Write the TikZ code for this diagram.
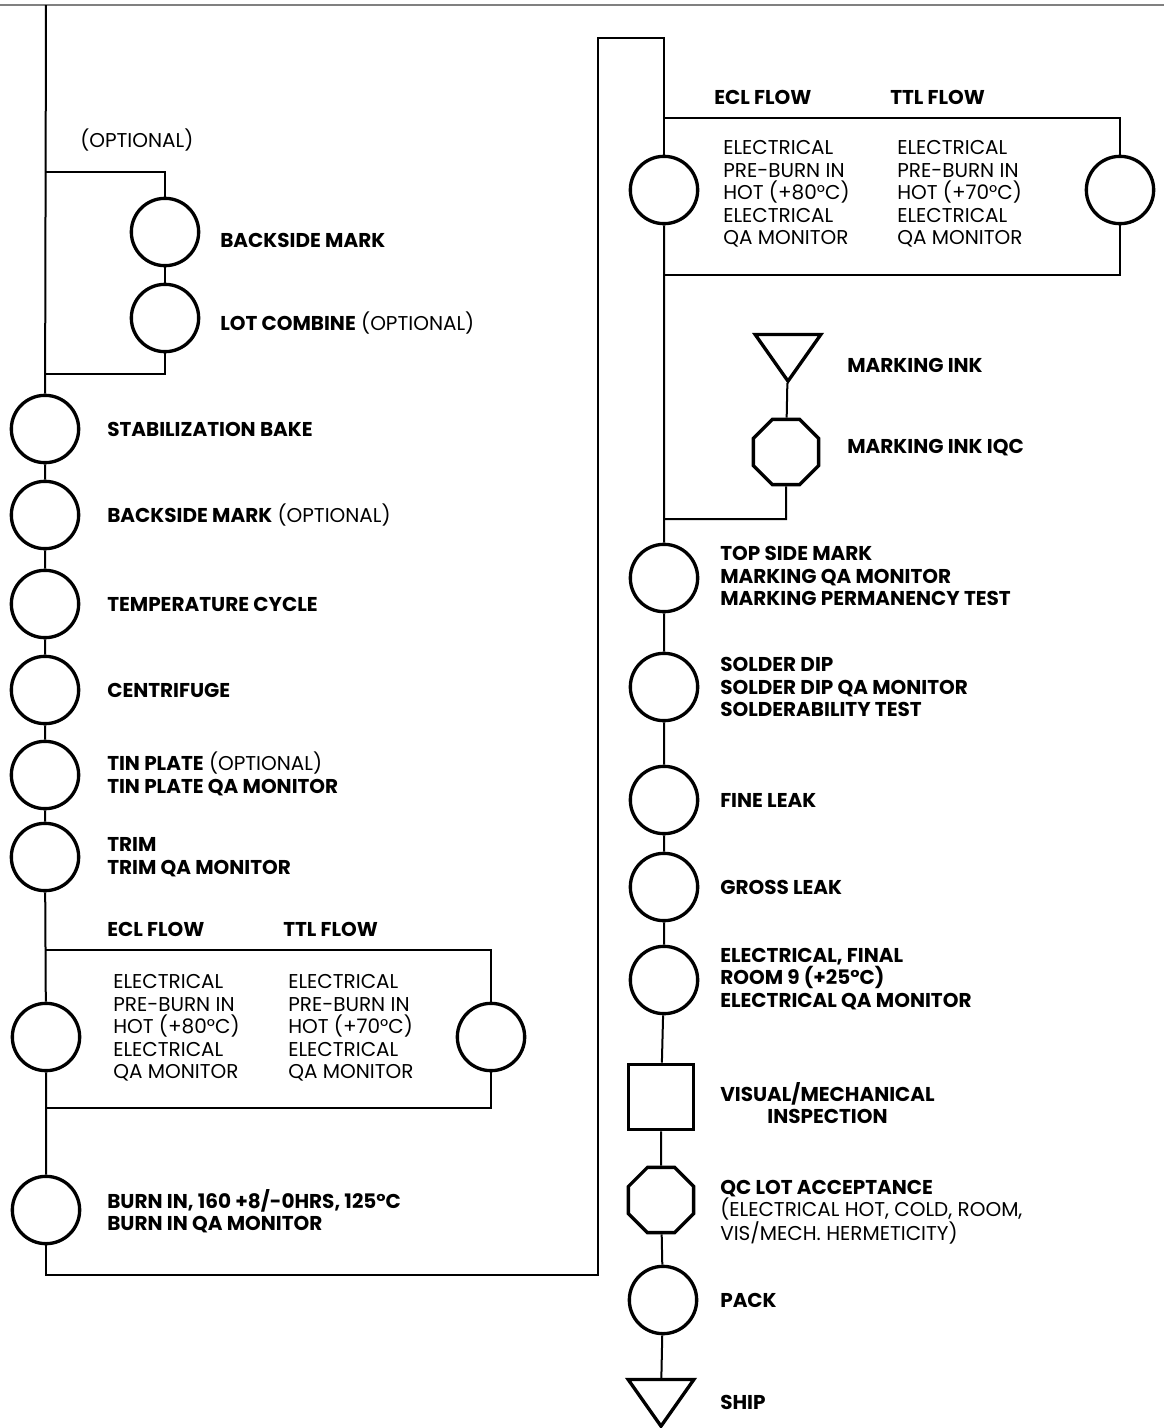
\documentclass[tikz,border=0pt]{standalone}
\usepackage{fontspec}
\setmainfont{Poppins}
\usetikzlibrary{shapes.geometric}

\begin{document}
\begin{tikzpicture}[x=0.75pt, y=-0.75pt,
    every node/.style={font=\fontsize{15}{16.9}\selectfont, inner sep=0pt},
    op/.style={draw, circle, line width=2.5pt, minimum size=50.5pt},
    insp/.style={draw, rectangle, line width=2.5pt, minimum size=49pt},
    qc/.style={draw, regular polygon, regular polygon sides=8, line width=2.5pt, minimum size=53pt},
    store/.style={draw, regular polygon, regular polygon sides=3, shape border rotate=180, line width=2.5pt, minimum size=57pt, yscale=0.82, transform shape},
    lbl/.style={anchor=west, align=left},
    blbl/.style={lbl, font=\fontsize{15}{16.9}\selectfont\bfseries},
    flow/.style={line width=1.5pt}]
    \useasboundingbox (0,0) rectangle (1164,1428);
    \draw[gray, line width=0.8pt] (0,5) -- (1164,5);

    \coordinate (ltop) at (46,5);
    \coordinate (optA) at (46,172);
    \coordinate (optB) at (46,374);
    \node[op] (bmark) at (165,232) {};
    \node[op] (lotc) at (165,318) {};
    \node[op] (stab) at (45,429) {};
    \node[op] (bmark2) at (45,515) {};
    \node[op] (tcyc) at (45,604) {};
    \node[op] (cent) at (45,690) {};
    \node[op] (tin) at (45,775) {};
    \node[op] (trim) at (45,857) {};
    \coordinate (lboxtop) at (46,950);
    \coordinate (lboxbot) at (46,1108);
    \node[op] (eclL) at (46,1037) {};
    \node[op] (ttlL) at (491,1037) {};
    \node[op] (burn) at (46,1210) {};
    \coordinate (turnA) at (598,1275);
    \coordinate (turnB) at (598,38);

    \node[op] (eclR) at (664,190) {};
    \node[op] (ttlR) at (1120,190) {};
    \coordinate (rboxtop) at (664,118);
    \coordinate (rboxbot) at (664,275);
    \node[store] (ink) at (788,350) {};
    \node[qc] (inkqc) at (786,452) {};
    \coordinate (inkjoin) at (664,519);
    \node[op] (tsm) at (664,578) {};
    \node[op] (sdip) at (664,687) {};
    \node[op] (fine) at (664,800) {};
    \node[op] (gross) at (664,887) {};
    \node[op] (efin) at (664,980) {};
    \node[insp] (vis) at (661,1097) {};
    \node[qc] (qclot) at (661,1200) {};
    \node[op] (pack) at (663,1300) {};
    \node[store] (ship) at (661,1395) {};

    \draw[flow] (ltop) -- (stab) -- (bmark2) -- (tcyc) -- (cent) -- (tin) -- (trim) -- (eclL) -- (burn);
    \draw[flow] (optA) -| (bmark) -- (lotc) |- (optB);
    \draw[flow] (lboxtop) -| (ttlL) |- (lboxbot);
    \draw[flow] (burn) |- (turnA) -- (turnB) -| (eclR);
    \draw[flow] (rboxtop) -| (ttlR) |- (rboxbot);
    \draw[flow] (eclR) -- (tsm) -- (sdip) -- (fine) -- (gross) -- (efin) -- (vis) -- (qclot) -- (pack) -- (ship);
    \draw[flow] (inkjoin) -| (inkqc) -- (ink);

    \node[lbl] (optlbl) at (80,140) {(OPTIONAL)};
    \node[blbl] (l1) at (220,240) {BACKSIDE MARK};
    \node[lbl] (l2) at (220,323) {\textbf{LOT COMBINE} (OPTIONAL)};
    \node[blbl] (l3) at (107,429) {STABILIZATION BAKE};
    \node[lbl] (l4) at (107,515) {\textbf{BACKSIDE MARK} (OPTIONAL)};
    \node[blbl] (l5) at (107,604) {TEMPERATURE CYCLE};
    \node[blbl] (l6) at (107,690) {CENTRIFUGE};
    \node[lbl] (l7) at (107,774) {\textbf{TIN PLATE} (OPTIONAL)\\\textbf{TIN PLATE QA MONITOR}};
    \node[blbl] (l8) at (107,857) {TRIM\\TRIM QA MONITOR};
    \node[blbl] (eclhL) at (107,929) {ECL FLOW};
    \node[blbl] (ttlhL) at (283,929) {TTL FLOW};
    \node[lbl] (ecltL) at (113,1028) {ELECTRICAL\\PRE-BURN IN\\HOT (+80°C)\\ELECTRICAL\\QA MONITOR};
    \node[lbl] (ttltL) at (288,1028) {ELECTRICAL\\PRE-BURN IN\\HOT (+70°C)\\ELECTRICAL\\QA MONITOR};
    \node[blbl] (l9) at (107,1211) {BURN IN, 160 +8/-0HRS, 125°C\\BURN IN QA MONITOR};

    \node[blbl] (eclhR) at (714,97) {ECL FLOW};
    \node[blbl] (ttlhR) at (890,97) {TTL FLOW};
    \node[lbl] (ecltR) at (723,194) {ELECTRICAL\\PRE-BURN IN\\HOT (+80°C)\\ELECTRICAL\\QA MONITOR};
    \node[lbl] (ttltR) at (897,194) {ELECTRICAL\\PRE-BURN IN\\HOT (+70°C)\\ELECTRICAL\\QA MONITOR};
    \node[blbl] (r1) at (847,365) {MARKING INK};
    \node[blbl] (r2) at (847,448) {MARKING INK IQC};
    \node[blbl] (r3) at (720,576) {TOP SIDE MARK\\MARKING QA MONITOR\\MARKING PERMANENCY TEST};
    \node[blbl] (r4) at (720,687) {SOLDER DIP\\SOLDER DIP QA MONITOR\\SOLDERABILITY TEST};
    \node[blbl] (r5) at (720,800) {FINE LEAK};
    \node[blbl] (r6) at (720,887) {GROSS LEAK};
    \node[blbl] (r7) at (720,979) {ELECTRICAL, FINAL\\ROOM 9 (+25°C)\\ELECTRICAL QA MONITOR};
    \node[blbl, align=center] (r8) at (720,1103) {VISUAL/MECHANICAL\\INSPECTION};
    \node[lbl] (r9) at (720,1212) {\textbf{QC LOT ACCEPTANCE}\\(ELECTRICAL HOT, COLD, ROOM,\\VIS/MECH. HERMETICITY)};
    \node[blbl] (r10) at (720,1300) {PACK};
    \node[blbl] (r11) at (720,1402) {SHIP};
\end{tikzpicture}
\end{document}
